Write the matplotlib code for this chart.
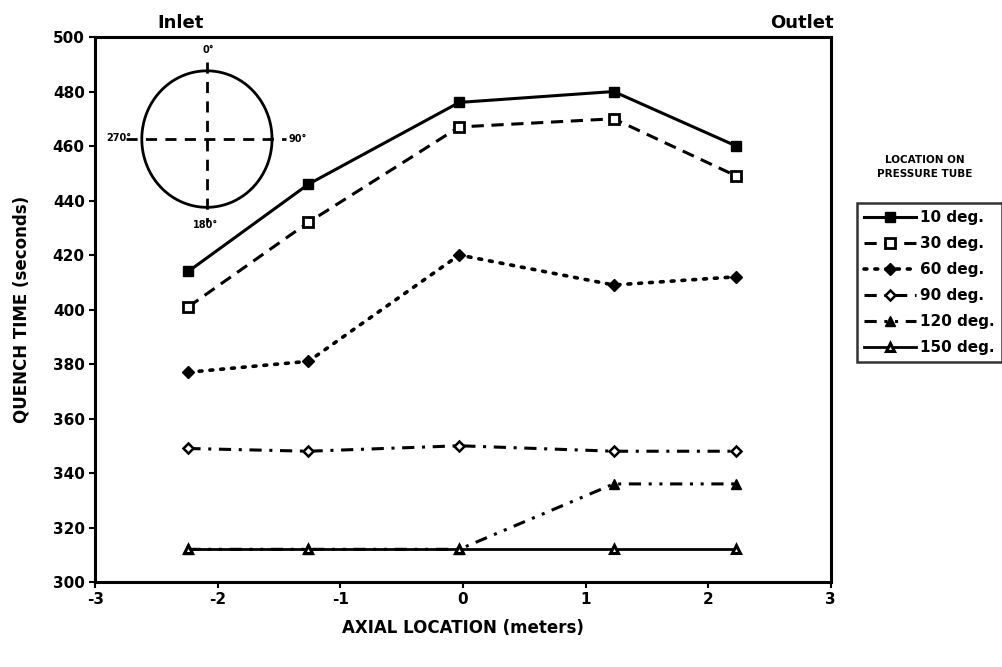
import numpy as np
import matplotlib
matplotlib.use("Agg")
import matplotlib.pyplot as plt

# axial positions (meters)
axial = [-2.24, -1.26, -0.03, 1.23, 2.23]

q10 = [414, 446, 476, 480, 460]
q30 = [401, 432, 467, 470, 449]
q60 = [377, 381, 420, 409, 412]
q90 = [349, 348, 350, 348, 348]
q120 = [312, 312, 312, 336, 336]
q150 = [312, 312, 312, 312, 312]

labels = ["10 deg.", "30 deg.", "60 deg.", "90 deg.", "120 deg.", "150 deg."]
xticks = [-3, -2, -1, 0, 1, 2, 3]
yticks = list(range(300, 501, 20))

plt.rcParams['font.family'] = ['DejaVu Sans']
plt.rcParams['font.weight'] = 'bold'
plt.rcParams['axes.unicode_minus'] = False

fig = plt.figure(figsize=(10.02, 6.67), dpi=100)
ax = fig.add_axes([0.095, 0.1274, 0.734, 0.8171])

ax.plot(axial, q10, color='black', lw=2.2, ls='-', marker='s', ms=6.5,
        mfc='black', mec='black', label=labels[0])
ax.plot(axial, q30, color='black', lw=2.2, ls=(0, (4, 2.5)), marker='s', ms=6.5,
        mfc='white', mec='black', mew=2, label=labels[1])
ax.plot(axial, q60, color='black', lw=2.6, ls=(0, (0.8, 2.2)), marker='D', ms=6.5,
        mfc='black', mec='black', dash_capstyle='round', label=labels[2])
ax.plot(axial, q90, color='black', lw=2.2, ls=(0, (4, 2.5, 1, 2.5)), marker='D', ms=5,
        mfc='white', mec='black', mew=1.8, label=labels[3])
ax.plot(axial, q120, color='black', lw=2.2, ls=(0, (4, 2.5, 1, 2.5, 1, 2.5)), marker='^', ms=7,
        mfc='black', mec='black', label=labels[4])
ax.plot(axial, q150, color='black', lw=2.0, ls='-', marker='^', ms=6,
        mfc='white', mec='black', mew=2.2, label=labels[5])

ax.set_xlim(-3, 3)
ax.set_ylim(300, 500)
ax.set_xticks(xticks)
ax.set_yticks(yticks)
ax.tick_params(direction='out', length=4, width=1.5, labelsize=11)
for sp in ax.spines.values():
    sp.set_linewidth(2.2)

ax.set_xlabel("AXIAL LOCATION (meters)", fontsize=12, fontweight='bold', labelpad=8)
ax.set_ylabel("QUENCH TIME (seconds)", fontsize=12, fontweight='bold', labelpad=16)

fig.text(0.18, 0.965, "Inlet", fontsize=13, ha='center', va='center')
fig.text(0.80, 0.965, "Outlet", fontsize=13, ha='center', va='center')

# cross-section sketch of the pressure tube
ins = fig.add_axes([0.109, 0.638, 0.195, 0.307])
ins.set_xlim(-1.5, 1.5)
ins.set_ylim(-1.5, 1.5)
ins.axis('off')
t = np.linspace(0, 2 * np.pi, 200)
ins.plot(np.cos(t), np.sin(t), color='black', lw=2)
ins.plot([0, 0], [1.13, -1.22], color='black', lw=2, ls=(0, (4, 3)))
ins.plot([-1.25, 1.22], [0, 0], color='black', lw=2, ls=(0, (4, 3)))
ins.text(0.02, 1.31, "0°", fontsize=7, ha='center', va='center')
ins.text(1.4, 0, "90°", fontsize=7, ha='center', va='center')
ins.text(-1.36, 0.02, "270°", fontsize=7, ha='center', va='center')
ins.text(-0.02, -1.26, "180°", fontsize=7, ha='center', va='center')

fig.text(0.923, 0.75, "LOCATION ON\nPRESSURE TUBE", fontsize=7.5, ha='center',
         va='center', linespacing=1.5)

leg = ax.legend(loc='upper left', bbox_to_anchor=(0.855, 0.695),
                bbox_transform=fig.transFigure, fontsize=11, frameon=True,
                fancybox=False, edgecolor='black', handlelength=3.4,
                handletextpad=0.3, labelspacing=0.72, borderpad=0.45,
                borderaxespad=0)
leg.get_frame().set_linewidth(1.8)

fig.savefig("out.png", dpi=100)
